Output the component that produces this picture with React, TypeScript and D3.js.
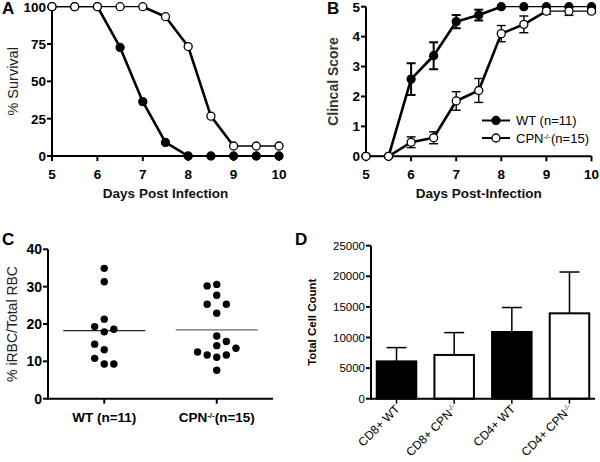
import React from 'react';
import * as d3 from 'd3';

// ---------- Data ----------
const days = [5, 5.5, 6, 6.5, 7, 7.5, 8, 8.5, 9, 9.5, 10];
const survivalWT = [100, 100, 100, 72.7, 36.4, 9.1, 0, 0, 0, 0, 0];
const survivalCPN = [100, 100, 100, 100, 100, 93.3, 73.3, 26.7, 6.7, 6.7, 6.7];
const scoreWT = [0, 0, 2.58, 3.36, 4.5, 4.72, 5, 5, 5, 5, 5];
const scoreWTErr = [0, 0, 0.53, 0.45, 0.22, 0.18, 0, 0, 0, 0, 0];
const scoreCPN = [0, 0, 0.47, 0.62, 1.85, 2.2, 4.1, 4.41, 4.85, 4.85, 4.85];
const scoreCPNErr = [0, 0, 0.18, 0.2, 0.31, 0.4, 0.27, 0.28, 0.1, 0.14, 0.06];
const survivalTicks = [0, 25, 50, 75, 100];
const scoreTicks = [0, 1, 2, 3, 4, 5];
const dayTicks = [5, 6, 7, 8, 9, 10];

const parasitemiaGroups = ['WT (n=11)', 'CPN-/-(n=15)'];
const parasitemiaWT = [34.9, 31.3, 21.3, 19.3, 17.9, 18.6, 14.6, 13.1, 10.8, 9.3, 9.3];
const swarmWT = [0, 0, 0, -1, 0, 1, -1, 0, -1, 0, 1];
const parasitemiaCPN = [30.2, 30.6, 27.7, 25.3, 25.3, 22.9, 16.8, 14.2, 15.3, 13.5, 12.5, 11.7, 11.1, 11.7, 7.6];
const swarmCPN = [-1, 0, 0, -1, 1, 0, 0, 0, 1, 2, -2, -1, 0, 1, 0];
const parasitemiaTicks = [0, 10, 20, 30, 40];

const cellCategories = ['CD8+ WT', 'CD8+ CPN-/-', 'CD4+ WT', 'CD4+ CPN-/-'];
const cellMeans = [6100, 7150, 10900, 13950];
const cellSD = [2250, 3650, 4000, 6750];
const cellFilled = [true, false, true, false];
const cellTicks = [0, 5000, 10000, 15000, 20000, 25000];

const FONT = '"Liberation Sans", Arial, Helvetica, sans-serif';

function Label({ text, supSize }: { text: string; supSize: number }) {
  const idx = text.indexOf('-/-');
  if (idx < 0) return <>{text}</>;
  return (
    <>
      {text.slice(0, idx)}
      <tspan baselineShift="super" fontSize={supSize}>-/-</tspan>
      {text.slice(idx + 3)}
    </>
  );
}

function LineSeries({ xs, ys, x, y, filled }: any) {
  const pts = xs.map((d: number, i: number) => [x(d), y(ys[i])]);
  const segs = [];
  for (let i = 0; i < pts.length - 1; i++) {
    const flat = Math.abs(pts[i][1] - pts[i + 1][1]) < 0.5;
    segs.push(
      <line key={i} x1={pts[i][0]} y1={pts[i][1]} x2={pts[i + 1][0]} y2={pts[i + 1][1]}
        stroke="#000" strokeWidth={flat ? 1.3 : 2.6} strokeLinecap="round" />
    );
  }
  return (
    <g>
      {segs}
      {pts.map((p: number[], i: number) => (
        <circle key={i} cx={p[0]} cy={p[1]} r={4} fill={filled ? '#000' : '#fff'} stroke="#000" strokeWidth={1.3} />
      ))}
    </g>
  );
}

function ErrorBars({ xs, ys, errs, x, y, width }: any) {
  return (
    <g stroke="#000" strokeWidth={width}>
      {xs.map((d: number, i: number) => {
        if (!errs[i]) return null;
        const cx = x(d);
        const t = y(ys[i] + errs[i]);
        const b = y(ys[i] - errs[i]);
        return (
          <g key={i}>
            <line x1={cx} x2={cx} y1={t} y2={b} />
            <line x1={cx - 4.5} x2={cx + 4.5} y1={t} y2={t} />
            <line x1={cx - 4.5} x2={cx + 4.5} y1={b} y2={b} />
          </g>
        );
      })}
    </g>
  );
}

function YAxis({ x0, scale, ticks, fontSize, bold }: any) {
  const [r0, r1] = scale.range();
  return (
    <g>
      <line x1={x0} x2={x0} y1={r0 + 1} y2={r1} stroke="#000" strokeWidth={2} />
      {ticks.map((t: number) => (
        <g key={t}>
          <line x1={x0 - 5} x2={x0} y1={scale(t)} y2={scale(t)} stroke="#000" strokeWidth={2} />
          <text x={x0 - 6} y={scale(t)} dy="0.36em" textAnchor="end" fontSize={fontSize}
            fontWeight={bold ? 'bold' : 'normal'} fontFamily={FONT}>{t}</text>
        </g>
      ))}
    </g>
  );
}

function PanelA() {
  const x = d3.scaleLinear().domain([5, 10]).range([52, 279]);
  const y = d3.scaleLinear().domain([0, 100]).range([156, 6.7]);
  return (
    <g>
      <text x={2} y={14} fontSize={17} fontWeight="bold" fontFamily={FONT}>A</text>
      <line x1={x(5)} x2={x(10)} y1={y(0)} y2={y(0)} stroke="#000" strokeWidth={2} />
      {dayTicks.map((t) => (
        <g key={t}>
          <line x1={x(t)} x2={x(t)} y1={y(0)} y2={y(0) + 5} stroke="#000" strokeWidth={2} />
          <text x={x(t)} y={178.5} textAnchor="middle" fontSize={13.5} fontWeight="bold" fontFamily={FONT}>{t}</text>
        </g>
      ))}
      <YAxis x0={52} scale={y} ticks={survivalTicks} fontSize={13.5} bold />
      <text transform={`translate(17.5,${(y(0) + y(100)) / 2}) rotate(-90)`} textAnchor="middle"
        fontSize={14.5} fill="#222" fontFamily={FONT}>% Survival</text>
      <text x={(x(5) + x(10)) / 2} y={198} textAnchor="middle" fontSize={13.5} fontWeight="bold" fill="#111" fontFamily={FONT}>Days Post Infection</text>
      <LineSeries xs={days} ys={survivalWT} x={x} y={y} filled />
      <LineSeries xs={days} ys={survivalCPN} x={x} y={y} filled={false} />
    </g>
  );
}

function PanelB() {
  const x = d3.scaleLinear().domain([5, 10]).range([366, 591.5]);
  const y = d3.scaleLinear().domain([0, 5]).range([156.3, 6.7]);
  return (
    <g>
      <text x={327} y={14} fontSize={17} fontWeight="bold" fontFamily={FONT}>B</text>
      <line x1={x(5)} x2={x(10)} y1={y(0)} y2={y(0)} stroke="#000" strokeWidth={2} />
      {dayTicks.map((t) => (
        <g key={t}>
          <line x1={x(t)} x2={x(t)} y1={y(0)} y2={y(0) + 5} stroke="#000" strokeWidth={2} />
          <text x={x(t)} y={178.5} textAnchor="middle" fontSize={13.5} fontWeight="bold" fontFamily={FONT}>{t}</text>
        </g>
      ))}
      <YAxis x0={366} scale={y} ticks={scoreTicks} fontSize={13.5} bold />
      <text transform={`translate(338,${(y(0) + y(5)) / 2}) rotate(-90)`} textAnchor="middle"
        fontSize={14} fontWeight="bold" fill="#333" fontFamily={FONT}>Clincal Score</text>
      <text x={(x(5) + x(10)) / 2} y={198} textAnchor="middle" fontSize={13.5} fontWeight="bold" fill="#111" fontFamily={FONT}>Days Post-Infection</text>
      <ErrorBars xs={days} ys={scoreWT} errs={scoreWTErr} x={x} y={y} width={2} />
      <LineSeries xs={days} ys={scoreWT} x={x} y={y} filled />
      <ErrorBars xs={days} ys={scoreCPN} errs={scoreCPNErr} x={x} y={y} width={1.4} />
      <LineSeries xs={days} ys={scoreCPN} x={x} y={y} filled={false} />
      {/* legend */}
      {[true, false].map((f, i) => (
        <g key={i}>
          <line x1={482} x2={510} y1={120.5 + i * 17.5} y2={120.5 + i * 17.5} stroke="#000" strokeWidth={2} />
          <circle cx={496} cy={120.5 + i * 17.5} r={4} fill={f ? '#000' : '#fff'} stroke="#000" strokeWidth={1.3} />
          <text x={516} y={120.5 + i * 17.5} dy="0.36em" fontSize={13} fontFamily={FONT}>
            {f ? 'WT  (n=11)' : <Label text="CPN-/-(n=15)" supSize={8} />}
          </text>
        </g>
      ))}
    </g>
  );
}

function PanelC() {
  const x = d3.scalePoint().domain(parasitemiaGroups).range([48, 273]).padding(0.5);
  const y = d3.scaleLinear().domain([0, 40]).range([398.7, 249.3]);
  const slot = 9.6;
  const groups = [
    { name: parasitemiaGroups[0], vals: parasitemiaWT, swarm: swarmWT, stroke: '#222' },
    { name: parasitemiaGroups[1], vals: parasitemiaCPN, swarm: swarmCPN, stroke: '#666' },
  ];
  return (
    <g>
      <text x={2} y={245} fontSize={17} fontWeight="bold" fontFamily={FONT}>C</text>
      <line x1={48} x2={273} y1={y(0)} y2={y(0)} stroke="#000" strokeWidth={2} />
      {parasitemiaGroups.map((g) => (
        <g key={g}>
          <line x1={x(g)} x2={x(g)} y1={y(0)} y2={y(0) + 5} stroke="#000" strokeWidth={2} />
          <text x={x(g)} y={422} textAnchor="middle" fontSize={13.5} fontWeight="bold" fontFamily={FONT}>
            <Label text={g} supSize={8} />
          </text>
        </g>
      ))}
      <YAxis x0={48} scale={y} ticks={parasitemiaTicks} fontSize={14} bold />
      <text transform={`translate(17,${(y(0) + y(40)) / 2}) rotate(-90)`} textAnchor="middle"
        fontSize={14} fill="#222" fontFamily={FONT}>% iRBC/Total RBC</text>
      {groups.map((g) => {
        const cx = x(g.name) as number;
        const mean = d3.mean(g.vals) as number;
        return (
          <g key={g.name}>
            <line x1={cx - 41} x2={cx + 41} y1={y(mean)} y2={y(mean)} stroke={g.stroke} strokeWidth={1.4} />
            {g.vals.map((v, i) => (
              <circle key={i} cx={cx + g.swarm[i] * slot} cy={y(v)} r={3.7} fill="#000" />
            ))}
          </g>
        );
      })}
    </g>
  );
}

function PanelD() {
  const x = d3.scaleBand().domain(cellCategories).range([371, 595]).paddingInner(0.315).paddingOuter(0.1);
  const y = d3.scaleLinear().domain([0, 25000]).range([398.7, 245.7]);
  return (
    <g>
      <text x={295} y={245} fontSize={17} fontWeight="bold" fontFamily={FONT}>D</text>
      {cellCategories.map((c, i) => {
        const x0 = x(c) as number;
        const w = x.bandwidth();
        const cx = x0 + w / 2;
        const top = y(cellMeans[i]);
        const et = y(cellMeans[i] + cellSD[i]);
        return (
          <g key={c}>
            <line x1={cx} x2={cx} y1={top} y2={et} stroke="#000" strokeWidth={1.5} />
            <line x1={cx - 10} x2={cx + 10} y1={et} y2={et} stroke="#000" strokeWidth={1.5} />
            <rect x={x0} y={top} width={w} height={y(0) - top} fill={cellFilled[i] ? '#000' : '#fff'} stroke="#000" strokeWidth={2} />
            <line x1={cx} x2={cx} y1={y(0)} y2={y(0) + 5} stroke="#000" strokeWidth={1.5} />
            <text transform={`translate(${cx + 4},${y(0) + 11}) rotate(-45)`} textAnchor="end" fontSize={12} fontFamily={FONT}>
              <Label text={c} supSize={7.5} />
            </text>
          </g>
        );
      })}
      <line x1={371} x2={595} y1={y(0)} y2={y(0)} stroke="#000" strokeWidth={2} />
      <YAxis x0={371} scale={y} ticks={cellTicks} fontSize={11.5} bold={false} />
      <text transform={`translate(316,${(y(0) + y(25000)) / 2}) rotate(-90)`} textAnchor="middle"
        fontSize={11.5} fontWeight="bold" fontFamily={FONT}>Total Cell Count</text>
    </g>
  );
}

export default function App() {
  return (
    <svg width={600} height={462} viewBox="0 0 600 462"
      style={{ position: 'absolute', left: 0, top: 0, background: '#fff' }}>
      <rect width={600} height={462} fill="#fff" />
      <PanelA />
      <PanelB />
      <PanelC />
      <PanelD />
    </svg>
  );
}
